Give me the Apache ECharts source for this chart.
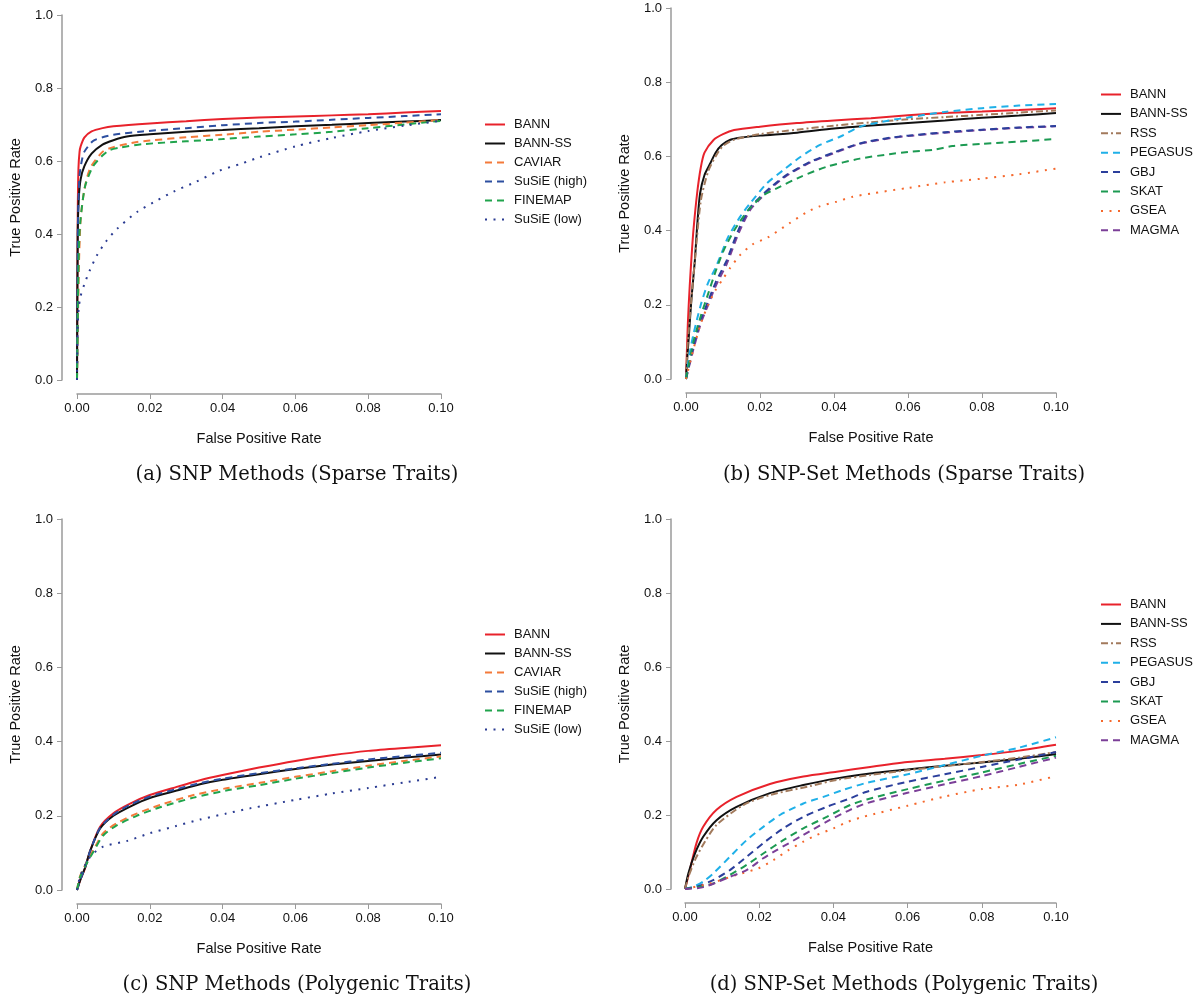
<!DOCTYPE html>
<html>
<head>
<meta charset="utf-8">
<script src="https://cdn.jsdelivr.net/npm/echarts@6/dist/echarts.min.js"></script>
<style>
  html, body { margin: 0; padding: 0; background: #fff; }
  #chart { width: 1203px; height: 998px; }
</style>
</head>
<body>
<div id="chart"></div>
<script>
// ---- tick labels ----
const xTicks = [0, 0.02, 0.04, 0.06, 0.08, 0.10];
const yTicks = [0, 0.2, 0.4, 0.6, 0.8, 1.0];

// ---- panel captions ----
const captions = [
  '(a) SNP Methods (Sparse Traits)',
  '(b) SNP-Set Methods (Sparse Traits)',
  '(c) SNP Methods (Polygenic Traits)',
  '(d) SNP-Set Methods (Polygenic Traits)'
];

// ---- method names ----
const snpMethods = ['BANN', 'BANN-SS', 'CAVIAR', 'SuSiE (high)', 'FINEMAP', 'SuSiE (low)'];
const setMethods = ['BANN', 'BANN-SS', 'RSS', 'PEGASUS', 'GBJ', 'SKAT', 'GSEA', 'MAGMA'];

// ---- (a) SNP methods, sparse traits: [FPR, TPR] ----
const aBANN = [[0,0],[0.0002,0.45],[0.0004,0.58],[0.0007,0.625],[0.001,0.64],[0.002,0.664],[0.004,0.681],[0.007,0.69],[0.01,0.695],[0.02,0.703],[0.03,0.709],[0.04,0.715],[0.05,0.719],[0.06,0.722],[0.07,0.725],[0.08,0.728],[0.09,0.733],[0.1,0.737]];
const aBANNSS = [[0,0],[0.0002,0.4],[0.0005,0.5],[0.001,0.55],[0.002,0.585],[0.004,0.62],[0.007,0.645],[0.01,0.657],[0.0137,0.667],[0.02,0.673],[0.03,0.68],[0.04,0.685],[0.05,0.69],[0.06,0.695],[0.07,0.699],[0.08,0.704],[0.09,0.708],[0.1,0.712]];
const aCAVIAR = [[0,0],[0.0005,0.3],[0.001,0.44],[0.002,0.52],[0.0036,0.58],[0.007,0.625],[0.01,0.638],[0.0165,0.652],[0.02,0.656],[0.03,0.665],[0.04,0.672],[0.05,0.68],[0.06,0.686],[0.07,0.692],[0.08,0.698],[0.09,0.705],[0.1,0.712]];
const aSuSiEhigh = [[0,0],[0.0003,0.45],[0.0007,0.56],[0.0013,0.6],[0.002,0.625],[0.0044,0.655],[0.007,0.665],[0.01,0.672],[0.018,0.681],[0.03,0.69],[0.04,0.698],[0.05,0.704],[0.06,0.708],[0.07,0.713],[0.08,0.718],[0.09,0.723],[0.1,0.728]];
const aFINEMAP = [[0,0],[0.0004,0.3],[0.0008,0.42],[0.0022,0.53],[0.0044,0.585],[0.007,0.615],[0.009,0.63],[0.012,0.637],[0.018,0.646],[0.03,0.654],[0.04,0.66],[0.05,0.667],[0.06,0.673],[0.07,0.68],[0.08,0.69],[0.09,0.7],[0.1,0.71]];
const aSuSiElow = [[0,0],[0.0002,0.15],[0.0005,0.2],[0.001,0.23],[0.002,0.262],[0.0035,0.3],[0.0054,0.34],[0.008,0.38],[0.011,0.414],[0.0166,0.461],[0.0222,0.493],[0.0265,0.516],[0.0327,0.543],[0.039,0.573],[0.0455,0.594],[0.05,0.61],[0.06,0.64],[0.07,0.663],[0.08,0.682],[0.09,0.697],[0.1,0.71]];

// ---- (b) SNP-set methods, sparse traits ----
const bBANN = [[0,0],[0.0005,0.15],[0.001,0.25],[0.0015,0.33],[0.002,0.4],[0.003,0.5],[0.004,0.57],[0.005,0.61],[0.0075,0.645],[0.01,0.66],[0.013,0.671],[0.02,0.68],[0.03,0.69],[0.04,0.697],[0.05,0.703],[0.06,0.711],[0.07,0.717],[0.08,0.721],[0.09,0.725],[0.1,0.73]];
const bBANNSS = [[0,0],[0.0003,0.05],[0.0008,0.12],[0.0015,0.22],[0.0024,0.32],[0.003,0.41],[0.0038,0.5],[0.005,0.55],[0.0065,0.58],[0.008,0.61],[0.0096,0.63],[0.012,0.645],[0.015,0.651],[0.02,0.656],[0.03,0.664],[0.04,0.675],[0.05,0.683],[0.06,0.69],[0.07,0.697],[0.08,0.704],[0.09,0.71],[0.1,0.717]];
const bRSS = [[0,0],[0.0005,0.1],[0.0015,0.22],[0.0025,0.33],[0.004,0.48],[0.006,0.56],[0.008,0.6],[0.01,0.628],[0.013,0.645],[0.02,0.66],[0.03,0.672],[0.04,0.683],[0.05,0.692],[0.06,0.7],[0.07,0.706],[0.08,0.712],[0.09,0.718],[0.1,0.724]];
const bPEGASUS = [[0,0],[0.001,0.07],[0.002,0.12],[0.004,0.2],[0.006,0.26],[0.008,0.3],[0.0096,0.339],[0.0114,0.383],[0.0146,0.437],[0.0173,0.473],[0.0218,0.527],[0.0263,0.563],[0.031,0.599],[0.0362,0.631],[0.0416,0.653],[0.047,0.68],[0.055,0.697],[0.06,0.705],[0.07,0.72],[0.08,0.73],[0.09,0.737],[0.1,0.741]];
const bGBJ = [[0,0],[0.002,0.09],[0.004,0.16],[0.006,0.21],[0.008,0.26],[0.011,0.32],[0.0141,0.4],[0.0173,0.462],[0.02,0.49],[0.0227,0.515],[0.0272,0.55],[0.0335,0.585],[0.0398,0.61],[0.047,0.635],[0.055,0.65],[0.06,0.656],[0.07,0.665],[0.08,0.672],[0.09,0.678],[0.1,0.682]];
const bSKAT = [[0,0],[0.002,0.1],[0.004,0.17],[0.006,0.23],[0.008,0.29],[0.0101,0.345],[0.013,0.4],[0.0168,0.455],[0.0209,0.495],[0.0245,0.514],[0.031,0.545],[0.038,0.572],[0.047,0.594],[0.055,0.606],[0.06,0.612],[0.067,0.618],[0.072,0.628],[0.08,0.634],[0.09,0.64],[0.1,0.647]];
const bGSEA = [[0,0],[0.002,0.08],[0.004,0.15],[0.006,0.2],[0.008,0.24],[0.01,0.27],[0.012,0.3],[0.0146,0.334],[0.018,0.363],[0.022,0.381],[0.028,0.42],[0.0324,0.448],[0.036,0.465],[0.0407,0.478],[0.045,0.491],[0.05,0.5],[0.06,0.515],[0.07,0.53],[0.08,0.54],[0.09,0.552],[0.1,0.567]];
const bMAGMA = [[0,0],[0.002,0.08],[0.004,0.15],[0.006,0.2],[0.008,0.25],[0.011,0.31],[0.0141,0.39],[0.0173,0.455],[0.02,0.485],[0.0227,0.512],[0.0272,0.548],[0.0335,0.583],[0.0398,0.608],[0.047,0.634],[0.055,0.649],[0.06,0.655],[0.07,0.664],[0.08,0.671],[0.09,0.677],[0.1,0.681]];

// ---- (c) SNP methods, polygenic traits ----
const cBANN = [[0,0],[0.001,0.03],[0.0022,0.058],[0.0036,0.105],[0.0063,0.17],[0.01,0.207],[0.0146,0.233],[0.02,0.256],[0.0274,0.278],[0.0338,0.296],[0.04,0.31],[0.05,0.33],[0.06,0.348],[0.07,0.363],[0.08,0.375],[0.09,0.383],[0.1,0.39]];
const cBANNSS = [[0,0],[0.001,0.03],[0.0022,0.06],[0.0036,0.105],[0.0063,0.165],[0.01,0.2],[0.0146,0.225],[0.02,0.248],[0.0274,0.268],[0.0338,0.285],[0.04,0.297],[0.05,0.312],[0.06,0.326],[0.07,0.338],[0.08,0.348],[0.09,0.357],[0.1,0.365]];
const cCAVIAR = [[0,0],[0.0008,0.036],[0.0027,0.076],[0.0045,0.108],[0.0072,0.153],[0.0109,0.18],[0.0164,0.206],[0.0228,0.229],[0.032,0.256],[0.041,0.274],[0.0503,0.289],[0.06,0.305],[0.07,0.32],[0.08,0.335],[0.09,0.348],[0.1,0.36]];
const cSuSiEhigh = [[0,0],[0.001,0.03],[0.0022,0.06],[0.0036,0.105],[0.0063,0.167],[0.01,0.203],[0.0146,0.23],[0.02,0.252],[0.0274,0.272],[0.0338,0.288],[0.04,0.3],[0.05,0.315],[0.06,0.328],[0.07,0.34],[0.08,0.352],[0.09,0.361],[0.1,0.37]];
const cFINEMAP = [[0,0],[0.0008,0.034],[0.0027,0.072],[0.0045,0.103],[0.0072,0.147],[0.0109,0.174],[0.0164,0.2],[0.0228,0.223],[0.032,0.249],[0.041,0.268],[0.0503,0.283],[0.06,0.3],[0.07,0.315],[0.08,0.33],[0.09,0.343],[0.1,0.355]];
const cSuSiElow = [[0,0],[0.0008,0.035],[0.0022,0.067],[0.004,0.094],[0.0072,0.117],[0.0137,0.132],[0.02,0.153],[0.027,0.172],[0.0338,0.19],[0.041,0.206],[0.0475,0.22],[0.06,0.243],[0.07,0.26],[0.08,0.275],[0.09,0.29],[0.1,0.305]];

// ---- (d) SNP-set methods, polygenic traits ----
const dBANN = [[0,0],[0.0013,0.051],[0.0031,0.124],[0.0049,0.168],[0.0085,0.214],[0.0139,0.249],[0.0229,0.284],[0.0319,0.304],[0.0409,0.317],[0.0499,0.33],[0.06,0.343],[0.07,0.352],[0.08,0.362],[0.09,0.374],[0.1,0.39]];
const dBANNSS = [[0,0],[0.0009,0.042],[0.0027,0.096],[0.0049,0.141],[0.0085,0.186],[0.0139,0.222],[0.0229,0.259],[0.0319,0.281],[0.0409,0.299],[0.0499,0.312],[0.06,0.323],[0.07,0.333],[0.08,0.342],[0.09,0.352],[0.1,0.365]];
const dRSS = [[0,0],[0.001,0.035],[0.003,0.085],[0.0055,0.13],[0.0085,0.173],[0.0157,0.227],[0.0229,0.254],[0.0337,0.278],[0.0409,0.295],[0.0499,0.308],[0.06,0.321],[0.07,0.332],[0.08,0.343],[0.09,0.355],[0.1,0.37]];
const dPEGASUS = [[0,0],[0.0022,0.006],[0.0049,0.02],[0.0076,0.042],[0.0121,0.087],[0.0166,0.132],[0.0211,0.168],[0.0256,0.2],[0.0319,0.231],[0.0373,0.249],[0.0427,0.268],[0.049,0.287],[0.06,0.31],[0.07,0.335],[0.08,0.36],[0.09,0.382],[0.1,0.41]];
const dGBJ = [[0,0],[0.0031,0.006],[0.0076,0.024],[0.0121,0.051],[0.0166,0.087],[0.0211,0.124],[0.0265,0.164],[0.0319,0.195],[0.0382,0.222],[0.0445,0.245],[0.049,0.263],[0.06,0.29],[0.07,0.31],[0.08,0.33],[0.09,0.35],[0.1,0.37]];
const dSKAT = [[0,0],[0.0035,0.005],[0.0076,0.015],[0.0121,0.038],[0.0166,0.065],[0.0211,0.096],[0.0265,0.132],[0.0319,0.164],[0.0382,0.195],[0.0445,0.227],[0.049,0.242],[0.06,0.27],[0.07,0.293],[0.08,0.315],[0.09,0.338],[0.1,0.36]];
const dGSEA = [[0,0],[0.0067,0.015],[0.0139,0.038],[0.0198,0.056],[0.0238,0.078],[0.0279,0.105],[0.0319,0.128],[0.0355,0.146],[0.04,0.164],[0.044,0.182],[0.048,0.195],[0.06,0.225],[0.07,0.25],[0.08,0.27],[0.09,0.282],[0.1,0.305]];
const dMAGMA = [[0,0],[0.005,0.005],[0.0121,0.033],[0.0166,0.051],[0.0211,0.083],[0.0247,0.105],[0.0319,0.146],[0.0382,0.182],[0.0445,0.214],[0.049,0.232],[0.06,0.26],[0.07,0.283],[0.08,0.305],[0.09,0.33],[0.1,0.355]];

// ---- line looks per method ----
const DASH = [7, 5];
const styles = {
  'BANN':         { color: '#e8222b', type: 'solid' },
  'BANN-SS':      { color: '#111111', type: 'solid' },
  'CAVIAR':       { color: '#f47a3a', type: DASH },
  'SuSiE (high)': { color: '#2d4fa0', type: DASH },
  'FINEMAP':      { color: '#20a44c', type: DASH },
  'SuSiE (low)':  { color: '#2a3b92', type: [2, 6.5] },
  'RSS':          { color: '#a27a5c', type: [7, 3, 2, 3] },
  'PEGASUS':      { color: '#1fb0e8', type: DASH },
  'GBJ':          { color: '#2b3f9c', type: DASH },
  'SKAT':         { color: '#1c9a52', type: DASH },
  'GSEA':         { color: '#f5682c', type: [2, 6.5] },
  'MAGMA':        { color: '#7b3f98', type: DASH }
};

const panels = [
  { names: snpMethods, data: [aBANN, aBANNSS, aCAVIAR, aSuSiEhigh, aFINEMAP, aSuSiElow],
    grid: { left: 77, top: 15, width: 364, height: 365 }, yOff: 15,
    legend: { left: 484, top: 118, gap: 6 }, cap: { x: 297, y: 475 } },
  { names: setMethods, data: [bBANN, bBANNSS, bRSS, bPEGASUS, bGBJ, bSKAT, bGSEA, bMAGMA],
    grid: { left: 686, top: 8, width: 370, height: 371 }, yOff: 15,
    legend: { left: 1100, top: 88, gap: 6.4 }, cap: { x: 904, y: 475 } },
  { names: snpMethods, data: [cBANN, cBANNSS, cCAVIAR, cSuSiEhigh, cFINEMAP, cSuSiElow],
    grid: { left: 77, top: 519, width: 364, height: 371 }, yOff: 15,
    legend: { left: 484, top: 628, gap: 6 }, cap: { x: 297, y: 985 } },
  { names: setMethods, data: [dBANN, dBANNSS, dRSS, dPEGASUS, dGBJ, dSKAT, dGSEA, dMAGMA],
    grid: { left: 685, top: 519, width: 371, height: 370 }, yOff: 14,
    legend: { left: 1100, top: 598, gap: 6.4 }, cap: { x: 904, y: 985 } }
];

const AXIS_GREY = '#9a9a9a';
const SANS = '"Liberation Sans", Arial, Helvetica, sans-serif';

const option = {
  animation: false,
  backgroundColor: '#ffffff',
  grid: [], xAxis: [], yAxis: [], series: [], legend: [], title: []
};

panels.forEach((p, i) => {
  option.grid.push(Object.assign({ containLabel: false }, p.grid));

  option.xAxis.push({
    gridIndex: i, type: 'value', min: xTicks[0], max: xTicks[xTicks.length - 1], interval: 0.02,
    offset: 14,
    name: 'False Positive Rate', nameLocation: 'middle', nameGap: 37,
    nameTextStyle: { fontFamily: SANS, fontSize: 14.5, color: '#111' },
    axisLine: { show: true, onZero: false, lineStyle: { color: AXIS_GREY, width: 1.5 } },
    axisTick: { show: true, length: 5, lineStyle: { color: AXIS_GREY, width: 1 } },
    axisLabel: { fontFamily: SANS, fontSize: 13, color: '#111', margin: 8,
                 formatter: v => v.toFixed(2) },
    splitLine: { show: false }
  });

  option.yAxis.push({
    gridIndex: i, type: 'value', min: yTicks[0], max: yTicks[yTicks.length - 1], interval: 0.2,
    offset: p.yOff,
    name: 'True Positive Rate', nameLocation: 'middle', nameGap: 39, nameRotate: 90,
    nameTextStyle: { fontFamily: SANS, fontSize: 14.5, color: '#111' },
    axisLine: { show: true, onZero: false, lineStyle: { color: AXIS_GREY, width: 1.5 } },
    axisTick: { show: true, length: 5, lineStyle: { color: AXIS_GREY, width: 1 } },
    axisLabel: { fontFamily: SANS, fontSize: 13, color: '#111', margin: 9,
                 formatter: v => v.toFixed(1) },
    splitLine: { show: false }
  });

  p.names.forEach((name, k) => {
    const st = styles[name];
    option.series.push({
      id: 'p' + i + '_' + k, name: name, type: 'line', xAxisIndex: i, yAxisIndex: i,
      data: p.data[k], showSymbol: false, symbol: 'none', smooth: 0.25,
      z: name === 'MAGMA' && i === 1 ? 1 : 2,
      lineStyle: { color: st.color, width: 2, type: st.type, cap: 'butt' },
      itemStyle: { color: st.color }
    });
  });

  option.legend.push({
    orient: 'vertical', left: p.legend.left, top: p.legend.top, padding: 0,
    itemWidth: 20, itemHeight: 14, itemGap: p.legend.gap,
    data: p.names,
    // line-only keys: hide the marker that line series put in the middle
    itemStyle: { opacity: 0 },
    textStyle: { fontFamily: SANS, fontSize: 13, color: '#111', padding: [0, 0, 0, 4] },
    selectedMode: false
  });

  option.title.push({
    text: captions[i], left: p.cap.x, top: p.cap.y, padding: 0,
    textAlign: 'center', textVerticalAlign: 'middle',
    textStyle: { fontFamily: '"DejaVu Serif", "Liberation Serif", serif', fontSize: 19.5,
                 fontWeight: 'normal', color: '#111' }
  });
});

const chart = echarts.init(document.getElementById('chart'), null, { renderer: 'canvas' });
chart.setOption(option);
</script>
</body>
</html>
